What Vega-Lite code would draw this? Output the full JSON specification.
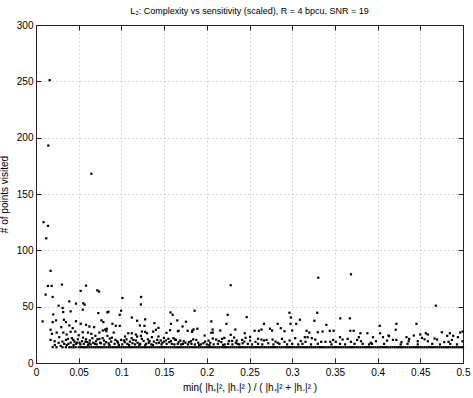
{
  "$schema": "https://vega.github.io/schema/vega-lite/v6.json",
  "width": 427,
  "height": 338,
  "autosize": {"type": "none"},
  "padding": {"left": 36, "top": 25, "right": 10, "bottom": 35},
  "background": "white",
  "config": {
    "font": "Liberation Sans",
    "view": {"stroke": null},
    "axis": {
      "labelFont": "Liberation Sans",
      "labelFontSize": 10,
      "labelColor": "black",
      "titleFont": "Liberation Sans",
      "titleFontSize": 10,
      "titleFontWeight": "normal",
      "titleColor": "black",
      "tickColor": "#222222",
      "domainColor": "#222222",
      "tickSize": -5,
      "labelFlush": false,
      "labelOverlap": false,
      "gridColor": "#b4b4b4",
      "gridDash": [1, 3],
      "gridWidth": 1
    }
  },
  "title": {
    "text": "L₂: Complexity vs sensitivity (scaled), R = 4 bpcu, SNR = 19",
    "font": "Liberation Sans",
    "fontSize": 9,
    "fontWeight": "normal",
    "color": "black",
    "anchor": "middle",
    "offset": 4
  },
  "datasets": {
    "pts": [
      {"x":0.016,"y":251},{"x":0.0144,"y":193},{"x":0.0648,"y":168},{"x":0.0089,"y":125},{"x":0.014,"y":121.7},{"x":0.012,"y":110.7},{"x":0.0171,"y":81.8},
      {"x":0.0077,"y":36.9},{"x":0.0113,"y":60.7},{"x":0.014,"y":68.4},{"x":0.0183,"y":68.4},{"x":0.0195,"y":58.6},{"x":0.0304,"y":69.6},{"x":0.0586,"y":68.7},{"x":0.0523,"y":64},{"x":0.0718,"y":64.5},{"x":0.0738,"y":63.4},{"x":0.039,"y":54.7},{"x":0.0468,"y":52.7},{"x":0.0554,"y":53},{"x":0.057,"y":51.8},{"x":0.0265,"y":50.9},{"x":0.0312,"y":48.8},{"x":0.0406,"y":45.8},{"x":0.0547,"y":47.3},{"x":0.073,"y":44.3},{"x":0.0836,"y":44.9},{"x":0.0202,"y":43.1},{"x":0.0318,"y":45.2},{"x":0.0234,"y":37.8},{"x":0.0195,"y":36.3},{"x":0.0327,"y":38.4},{"x":0.0351,"y":36.3},{"x":0.0468,"y":37.1},{"x":0.0523,"y":34.8},{"x":0.039,"y":33.3},{"x":0.0296,"y":31.8},{"x":0.043,"y":30.9},{"x":0.0586,"y":33.9},{"x":0.0625,"y":32.4},{"x":0.068,"y":31.8},{"x":0.0766,"y":37.8},{"x":0.0789,"y":36.3},{"x":0.0829,"y":30.4},{"x":0.0782,"y":28.8},{"x":0.0742,"y":27},{"x":0.0171,"y":29.5},{"x":0.0187,"y":25.9},{"x":0.0242,"y":27},{"x":0.0272,"y":22.9},{"x":0.032,"y":27},{"x":0.0359,"y":25.3},{"x":0.0406,"y":27.7},{"x":0.046,"y":27.9},{"x":0.05,"y":24.6},{"x":0.0547,"y":27.3},{"x":0.061,"y":27},{"x":0.0648,"y":25.9},{"x":0.0695,"y":24.1},{"x":0.0171,"y":20.5},{"x":0.0218,"y":19.3},{"x":0.0265,"y":17.9},{"x":0.0289,"y":15.2},{"x":0.0374,"y":21.4},{"x":0.0406,"y":18.1},{"x":0.0437,"y":20.5},{"x":0.0468,"y":17},{"x":0.0539,"y":19.3},{"x":0.0586,"y":21.1},{"x":0.0625,"y":17.5},{"x":0.0703,"y":19.3},{"x":0.0742,"y":21.4},{"x":0.0797,"y":19.9},{"x":0.0836,"y":24.1},
      {"x":0.022,"y":16},{"x":0.033,"y":17},{"x":0.036,"y":16},{"x":0.044,"y":16},{"x":0.048,"y":18},{"x":0.052,"y":16.5},{"x":0.056,"y":17},{"x":0.06,"y":18.5},{"x":0.064,"y":16.5},{"x":0.067,"y":18},{"x":0.071,"y":16.5},{"x":0.076,"y":17.5},{"x":0.08,"y":16.5},{"x":0.085,"y":17.5},{"x":0.088,"y":19},
      {"x":0.1012,"y":57.7},{"x":0.1231,"y":58.6},{"x":0.1228,"y":52},{"x":0.0848,"y":45.5},{"x":0.0997,"y":46.4},{"x":0.098,"y":42.8},{"x":0.1575,"y":44.9},{"x":0.16,"y":42.8},{"x":0.1122,"y":40.4},{"x":0.1184,"y":37.5},{"x":0.1278,"y":38.7},{"x":0.1387,"y":35.4},{"x":0.1654,"y":37.8},{"x":0.0895,"y":34.8},{"x":0.0934,"y":33},{"x":0.098,"y":33},{"x":0.1216,"y":33.3},{"x":0.127,"y":33},{"x":0.1434,"y":31.2},{"x":0.1404,"y":29.5},{"x":0.081,"y":29.7},{"x":0.124,"y":27.9},{"x":0.1278,"y":27.7},{"x":0.1372,"y":27.9},{"x":0.13,"y":26.4},{"x":0.108,"y":26.4},{"x":0.1122,"y":26.4},{"x":0.091,"y":27},{"x":0.0824,"y":28.2},{"x":0.1169,"y":25.3},{"x":0.1528,"y":26.8},{"x":0.157,"y":29.1},{"x":0.1662,"y":28.2},{"x":0.1043,"y":23.5},{"x":0.1184,"y":23.5},{"x":0.1228,"y":24.1},{"x":0.1357,"y":22.9},{"x":0.1434,"y":23.5},{"x":0.1498,"y":22.3},{"x":0.1638,"y":20.5},{"x":0.0864,"y":21.7},{"x":0.0997,"y":20.5},{"x":0.095,"y":19.3},
      {"x":0.092,"y":17},{"x":0.096,"y":18},{"x":0.101,"y":16.5},{"x":0.104,"y":18.5},{"x":0.107,"y":17},{"x":0.11,"y":19},{"x":0.113,"y":17.5},{"x":0.116,"y":16.5},{"x":0.119,"y":18},{"x":0.122,"y":17},{"x":0.126,"y":19.5},{"x":0.129,"y":17},{"x":0.132,"y":18},{"x":0.135,"y":16.5},{"x":0.138,"y":19},{"x":0.141,"y":17.5},{"x":0.144,"y":18},{"x":0.147,"y":16.5},{"x":0.15,"y":19},{"x":0.153,"y":17},{"x":0.156,"y":18.5},{"x":0.159,"y":17},{"x":0.162,"y":16.5},{"x":0.106,"y":21},{"x":0.114,"y":20.5},{"x":0.131,"y":21},{"x":0.146,"y":20},{"x":0.155,"y":21.5},
      {"x":0.1857,"y":46.4},{"x":0.1756,"y":36.6},{"x":0.158,"y":34.8},{"x":0.1716,"y":32.4},{"x":0.1775,"y":28.6},{"x":0.183,"y":28.6},{"x":0.167,"y":28.6},{"x":0.189,"y":30.4},{"x":0.1845,"y":29.8},{"x":0.2053,"y":36.9},{"x":0.2244,"y":42.8},{"x":0.223,"y":34.8},{"x":0.2467,"y":40.7},{"x":0.2068,"y":29.7},{"x":0.2158,"y":28.8},{"x":0.2334,"y":29.7},{"x":0.207,"y":27},{"x":0.1975,"y":24.4},{"x":0.202,"y":19.9},{"x":0.2205,"y":22.3},{"x":0.2179,"y":21.4},{"x":0.228,"y":25},{"x":0.232,"y":22.6},{"x":0.2444,"y":26.4},{"x":0.2455,"y":22.3},{"x":0.1627,"y":20.8},{"x":0.169,"y":19.9},{"x":0.173,"y":19.3},{"x":0.1815,"y":19.3},{"x":0.1877,"y":20.5},{"x":0.207,"y":21.7},{"x":0.211,"y":20.8},{"x":0.2296,"y":19.6},{"x":0.235,"y":19.9},{"x":0.2413,"y":20.5},{"x":0.228,"y":69},{"x":0.1827,"y":27.7},{"x":0.2053,"y":26.8},
      {"x":0.166,"y":17},{"x":0.17,"y":16.5},{"x":0.175,"y":18},{"x":0.178,"y":16.5},{"x":0.182,"y":17},{"x":0.186,"y":16.5},{"x":0.19,"y":18},{"x":0.193,"y":16.5},{"x":0.196,"y":17.5},{"x":0.2,"y":16.5},{"x":0.204,"y":18},{"x":0.208,"y":16.5},{"x":0.213,"y":17},{"x":0.217,"y":18.5},{"x":0.221,"y":16.5},{"x":0.225,"y":17},{"x":0.23,"y":16.5},{"x":0.234,"y":18},{"x":0.238,"y":16.5},{"x":0.242,"y":17.5},
      {"x":0.3305,"y":75.7},{"x":0.3688,"y":78.7},{"x":0.2968,"y":44.6},{"x":0.2984,"y":40.4},{"x":0.3293,"y":44.6},{"x":0.309,"y":38.4},{"x":0.326,"y":37.5},{"x":0.3563,"y":39.6},{"x":0.3676,"y":39.6},{"x":0.298,"y":34.8},{"x":0.3047,"y":34.8},{"x":0.34,"y":33.9},{"x":0.267,"y":34.8},{"x":0.283,"y":34.8},{"x":0.2866,"y":30.9},{"x":0.256,"y":28.6},{"x":0.261,"y":28.6},{"x":0.264,"y":29.7},{"x":0.274,"y":30.4},{"x":0.2765,"y":28.8},{"x":0.291,"y":28.2},{"x":0.3,"y":28.8},{"x":0.3168,"y":28.6},{"x":0.32,"y":27},{"x":0.33,"y":27.3},{"x":0.3356,"y":27.9},{"x":0.344,"y":28.6},{"x":0.3485,"y":28.6},{"x":0.368,"y":28.6},{"x":0.372,"y":28.6},{"x":0.356,"y":22.9},{"x":0.359,"y":20.8},{"x":0.365,"y":21.4},{"x":0.2507,"y":23.2},{"x":0.2507,"y":19.9},{"x":0.264,"y":20.8},{"x":0.267,"y":20},{"x":0.27,"y":20.5},{"x":0.277,"y":20.8},{"x":0.2804,"y":19},{"x":0.288,"y":21.4},{"x":0.3035,"y":22},{"x":0.3148,"y":22.9},{"x":0.318,"y":22.9},{"x":0.327,"y":20.8},{"x":0.334,"y":18.8},{"x":0.339,"y":18.8},{"x":0.3446,"y":18.8},{"x":0.351,"y":18.8},{"x":0.257,"y":18.8},{"x":0.291,"y":18.8},{"x":0.3156,"y":18.8},{"x":0.3688,"y":18.8},
      {"x":0.248,"y":17},{"x":0.253,"y":16.5},{"x":0.26,"y":17},{"x":0.265,"y":16.5},{"x":0.272,"y":17.5},{"x":0.278,"y":16.5},{"x":0.285,"y":17},{"x":0.294,"y":16.5},{"x":0.3,"y":17},{"x":0.307,"y":16.5},{"x":0.312,"y":17},{"x":0.322,"y":16.5},{"x":0.33,"y":17},{"x":0.346,"y":16.5},{"x":0.356,"y":17},{"x":0.362,"y":16.5},{"x":0.373,"y":17},
      {"x":0.4682,"y":50.9},{"x":0.4025,"y":33},{"x":0.422,"y":34.8},{"x":0.4455,"y":34.8},{"x":0.4212,"y":29.5},{"x":0.3798,"y":26.4},{"x":0.388,"y":26.4},{"x":0.403,"y":26.4},{"x":0.4127,"y":24.4},{"x":0.4565,"y":26.4},{"x":0.4588,"y":25.3},{"x":0.4752,"y":27.3},{"x":0.4846,"y":26.4},{"x":0.4967,"y":27},{"x":0.4995,"y":27.9},{"x":0.378,"y":22.9},{"x":0.3946,"y":22.9},{"x":0.4063,"y":22.9},{"x":0.4134,"y":23.8},{"x":0.418,"y":20.5},{"x":0.422,"y":20.5},{"x":0.4338,"y":22.9},{"x":0.437,"y":21.4},{"x":0.4364,"y":19.3},{"x":0.4424,"y":24.4},{"x":0.45,"y":25.3},{"x":0.452,"y":22.3},{"x":0.4667,"y":21.7},{"x":0.4697,"y":20.8},{"x":0.4815,"y":24.1},{"x":0.4885,"y":24.1},{"x":0.494,"y":22.9},{"x":0.487,"y":20.5},{"x":0.483,"y":18.8},{"x":0.3806,"y":19.3},{"x":0.398,"y":19.3},{"x":0.411,"y":19.9},{"x":0.447,"y":19.3},{"x":0.4588,"y":19.3},{"x":0.4995,"y":19.3},
      {"x":0.3825,"y":17},{"x":0.39,"y":16.5},{"x":0.3935,"y":17},{"x":0.4075,"y":17},{"x":0.427,"y":16.5},{"x":0.435,"y":17},{"x":0.447,"y":16.5},{"x":0.464,"y":17},{"x":0.473,"y":16.5},{"x":0.485,"y":17},{"x":0.493,"y":16.5},
      {"x":0.031,"y":19},{"x":0.035,"y":20.5},{"x":0.038,"y":17},{"x":0.042,"y":22},{"x":0.045,"y":19},{"x":0.049,"y":21},{"x":0.051,"y":18},{"x":0.055,"y":22.5},{"x":0.058,"y":19},{"x":0.061,"y":16},{"x":0.063,"y":20},{"x":0.066,"y":22},{"x":0.069,"y":17},{"x":0.072,"y":21},{"x":0.075,"y":18},{"x":0.078,"y":22},{"x":0.082,"y":18.5},{"x":0.086,"y":16},{"x":0.089,"y":22.5},{"x":0.093,"y":20.5},{"x":0.097,"y":16},{"x":0.103,"y":20},{"x":0.109,"y":16},{"x":0.112,"y":22},{"x":0.117,"y":20},{"x":0.121,"y":16},{"x":0.124,"y":21.5},{"x":0.128,"y":16},{"x":0.133,"y":19.5},{"x":0.137,"y":16},{"x":0.142,"y":20.5},{"x":0.148,"y":18},{"x":0.152,"y":20},{"x":0.158,"y":19.5},{"x":0.161,"y":22},{"x":0.167,"y":18.5},{"x":0.172,"y":17},{"x":0.179,"y":18.5},{"x":0.184,"y":21},{"x":0.191,"y":16},{"x":0.198,"y":19},{"x":0.203,"y":16},{"x":0.214,"y":19.5},{"x":0.219,"y":16},{"x":0.226,"y":19.5},{"x":0.236,"y":17},{"x":0.244,"y":19},{"x":0.26,"y":21.5},{"x":0.283,"y":18},{"x":0.297,"y":20},{"x":0.31,"y":19.5},{"x":0.323,"y":22},{"x":0.348,"y":20.5},{"x":0.376,"y":20.5},{"x":0.392,"y":18},{"x":0.428,"y":18.5},{"x":0.455,"y":21},{"x":0.478,"y":18.5}
    ],
    "base": [
      {"x":0.0195,"y":14},{"x":0.024,"y":14},{"x":0.031,"y":14},{"x":0.035,"y":14},{"x":0.039,"y":14},{"x":0.0415,"y":14},{"x":0.044,"y":14},{"x":0.0465,"y":14},
      {"x":0.05,"y":14},{"x":0.0525,"y":14},{"x":0.055,"y":14},{"x":0.0575,"y":14},{"x":0.06,"y":14},{"x":0.0625,"y":14},{"x":0.065,"y":14},{"x":0.0675,"y":14},{"x":0.07,"y":14},{"x":0.0725,"y":14},{"x":0.075,"y":14},{"x":0.0775,"y":14},{"x":0.08,"y":14},{"x":0.0825,"y":14},{"x":0.085,"y":14},{"x":0.0875,"y":14},{"x":0.09,"y":14},{"x":0.0925,"y":14},{"x":0.095,"y":14},{"x":0.0975,"y":14},
      {"x":0.1,"y":14},{"x":0.1025,"y":14},{"x":0.105,"y":14},{"x":0.1075,"y":14},{"x":0.11,"y":14},{"x":0.1125,"y":14},{"x":0.115,"y":14},{"x":0.1175,"y":14},{"x":0.12,"y":14},{"x":0.1225,"y":14},{"x":0.125,"y":14},{"x":0.1275,"y":14},{"x":0.13,"y":14},{"x":0.1325,"y":14},{"x":0.135,"y":14},{"x":0.1375,"y":14},{"x":0.14,"y":14},{"x":0.1425,"y":14},{"x":0.145,"y":14},{"x":0.1475,"y":14},
      {"x":0.15,"y":14},{"x":0.1525,"y":14},{"x":0.155,"y":14},{"x":0.1575,"y":14},{"x":0.16,"y":14},{"x":0.1625,"y":14},{"x":0.165,"y":14},{"x":0.1675,"y":14},{"x":0.17,"y":14},{"x":0.1725,"y":14},{"x":0.175,"y":14},{"x":0.1775,"y":14},{"x":0.18,"y":14},{"x":0.1825,"y":14},{"x":0.185,"y":14},{"x":0.1875,"y":14},{"x":0.19,"y":14},{"x":0.1925,"y":14},{"x":0.195,"y":14},{"x":0.1975,"y":14},
      {"x":0.2,"y":14},{"x":0.2025,"y":14},{"x":0.205,"y":14},{"x":0.2075,"y":14},{"x":0.21,"y":14},{"x":0.2125,"y":14},{"x":0.215,"y":14},{"x":0.2175,"y":14},{"x":0.22,"y":14},{"x":0.2225,"y":14},{"x":0.225,"y":14},{"x":0.2275,"y":14},{"x":0.23,"y":14},{"x":0.2325,"y":14},{"x":0.235,"y":14},{"x":0.2375,"y":14},{"x":0.24,"y":14},{"x":0.2425,"y":14},{"x":0.245,"y":14},{"x":0.2475,"y":14},
      {"x":0.25,"y":14},{"x":0.2525,"y":14},{"x":0.255,"y":14},{"x":0.2575,"y":14},{"x":0.26,"y":14},{"x":0.2625,"y":14},{"x":0.265,"y":14},{"x":0.2675,"y":14},{"x":0.27,"y":14},{"x":0.2725,"y":14},{"x":0.275,"y":14},{"x":0.2775,"y":14},{"x":0.28,"y":14},{"x":0.2825,"y":14},{"x":0.285,"y":14},{"x":0.2875,"y":14},{"x":0.29,"y":14},{"x":0.2925,"y":14},{"x":0.295,"y":14},{"x":0.2975,"y":14},
      {"x":0.3,"y":14},{"x":0.3025,"y":14},{"x":0.305,"y":14},{"x":0.3075,"y":14},{"x":0.31,"y":14},{"x":0.3125,"y":14},{"x":0.315,"y":14},{"x":0.3175,"y":14},{"x":0.32,"y":14},{"x":0.3225,"y":14},{"x":0.325,"y":14},{"x":0.3275,"y":14},{"x":0.33,"y":14},{"x":0.3325,"y":14},{"x":0.335,"y":14},{"x":0.3375,"y":14},{"x":0.34,"y":14},{"x":0.3425,"y":14},{"x":0.345,"y":14},{"x":0.3475,"y":14},
      {"x":0.35,"y":14},{"x":0.3525,"y":14},{"x":0.355,"y":14},{"x":0.3575,"y":14},{"x":0.36,"y":14},{"x":0.3625,"y":14},{"x":0.365,"y":14},{"x":0.3675,"y":14},{"x":0.37,"y":14},{"x":0.3725,"y":14},{"x":0.375,"y":14},{"x":0.3775,"y":14},{"x":0.38,"y":14},{"x":0.3825,"y":14},{"x":0.385,"y":14},{"x":0.3875,"y":14},{"x":0.39,"y":14},{"x":0.3925,"y":14},{"x":0.395,"y":14},{"x":0.3975,"y":14},
      {"x":0.4,"y":14},{"x":0.4025,"y":14},{"x":0.405,"y":14},{"x":0.4075,"y":14},{"x":0.41,"y":14},{"x":0.4125,"y":14},{"x":0.415,"y":14},{"x":0.4175,"y":14},{"x":0.42,"y":14},{"x":0.4225,"y":14},{"x":0.425,"y":14},{"x":0.4275,"y":14},{"x":0.43,"y":14},{"x":0.4325,"y":14},{"x":0.435,"y":14},{"x":0.4375,"y":14},{"x":0.44,"y":14},{"x":0.4425,"y":14},{"x":0.445,"y":14},{"x":0.4475,"y":14},
      {"x":0.45,"y":14},{"x":0.4525,"y":14},{"x":0.455,"y":14},{"x":0.4575,"y":14},{"x":0.46,"y":14},{"x":0.4625,"y":14},{"x":0.465,"y":14},{"x":0.4675,"y":14},{"x":0.47,"y":14},{"x":0.4725,"y":14},{"x":0.475,"y":14},{"x":0.4775,"y":14},{"x":0.48,"y":14},{"x":0.4825,"y":14},{"x":0.485,"y":14},{"x":0.4875,"y":14},{"x":0.49,"y":14},{"x":0.4925,"y":14},{"x":0.495,"y":14},{"x":0.4975,"y":14},{"x":0.5,"y":14}
    ]
  },
  "layer": [
    {
      "data": {"name": "pts"},
      "mark": {"type": "point", "shape": "square", "filled": true, "size": 5, "color": "black", "opacity": 1},
      "encoding": {
        "x": {
          "field": "x", "type": "quantitative",
          "scale": {"domain": [0, 0.5], "nice": false, "zero": false},
          "axis": {
            "orient": "bottom",
            "values": [0, 0.05, 0.1, 0.15, 0.2, 0.25, 0.3, 0.35, 0.4, 0.45, 0.5],
            "format": "~g",
            "grid": true,
            "labelPadding": 9,
            "title": "min( |h₊|², |h₋|² ) / ( |h₊|² + |h₋|² )",
            "titlePadding": 5
          }
        },
        "y": {
          "field": "y", "type": "quantitative",
          "scale": {"domain": [0, 300], "nice": false, "zero": true},
          "axis": {
            "orient": "left",
            "values": [0, 50, 100, 150, 200, 250, 300],
            "grid": true,
            "labelPadding": 8,
            "title": "# of points visited",
            "titlePadding": 7
          }
        }
      }
    },
    {
      "data": {"name": "base"},
      "mark": {"type": "point", "shape": "square", "filled": true, "size": 5, "color": "black", "opacity": 1},
      "encoding": {
        "x": {
          "field": "x", "type": "quantitative",
          "scale": {"domain": [0, 0.5], "nice": false, "zero": false},
          "axis": {
            "orient": "top",
            "values": [0, 0.05, 0.1, 0.15, 0.2, 0.25, 0.3, 0.35, 0.4, 0.45, 0.5],
            "labels": false,
            "grid": false,
            "title": null
          }
        },
        "y": {
          "field": "y", "type": "quantitative",
          "scale": {"domain": [0, 300], "nice": false, "zero": true},
          "axis": {
            "orient": "right",
            "values": [0, 50, 100, 150, 200, 250, 300],
            "labels": false,
            "grid": false,
            "title": null
          }
        }
      }
    }
  ],
  "resolve": {"axis": {"x": "independent", "y": "independent"}}
}
